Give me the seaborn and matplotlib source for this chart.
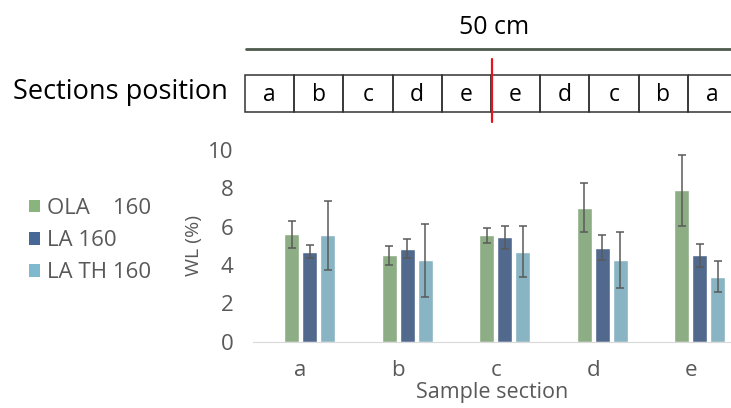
import numpy as np
import pandas as pd
import matplotlib
matplotlib.use('Agg')
import matplotlib.pyplot as plt
import matplotlib.transforms as mtransforms
from matplotlib.patches import Rectangle, Patch
import seaborn as sns

sections = ['a', 'b', 'c', 'd', 'e']
series = ['OLA    160', 'LA 160', 'LA TH 160']
ola = [5.6, 4.5, 5.55, 7.0, 7.9]
ola_err = [0.7, 0.5, 0.4, 1.3, 1.85]
la = [4.7, 4.85, 5.45, 4.9, 4.5]
la_err = [0.35, 0.5, 0.6, 0.65, 0.6]
lath = [5.55, 4.25, 4.7, 4.25, 3.4]
lath_err = [1.8, 1.9, 1.35, 1.45, 0.8]
positions = ['a', 'b', 'c', 'd', 'e', 'e', 'd', 'c', 'b', 'a']
colors = ['#89B47D', '#476797', '#7EB9CD']

df = pd.DataFrame({
    'section': sections * 3,
    'series': np.repeat(series, len(sections)),
    'wl': ola + la + lath,
    'err': ola_err + la_err + lath_err,
})

sns.set_style('white')
plt.rcParams['font.family'] = ['Open Sans', 'DejaVu Sans']
grey = '#595959'

fig = plt.figure(figsize=(7.31, 4.08), dpi=100)
ax = fig.add_axes([253 / 731, 1 - 341.7 / 408, 1 - 253 / 731, (341.7 - 150) / 408])

sns.barplot(data=df, x='section', y='wl', hue='series', palette=colors,
            width=0.555, gap=0.16, errorbar=None, legend=False, ax=ax)

# error bars from the table
for cont, s in zip(ax.containers, series):
    sub = df[df['series'] == s]
    xs = [p.get_x() + p.get_width() / 2 for p in cont.patches]
    ax.errorbar(xs, sub['wl'], yerr=sub['err'], fmt='none', ecolor='#5a5a5a',
                elinewidth=1.1, capsize=3, capthick=1.1)

ax.set_xlim(-0.58, 4.32)
ax.set_ylim(0, 10)
ax.set_yticks(range(0, 11, 2))
ax.tick_params(axis='both', length=0, colors=grey, labelsize=16)
ax.tick_params(axis='y', pad=14)
ax.tick_params(axis='x', pad=13)
for lbl in ax.get_xticklabels():
    lbl.set_transform(lbl.get_transform() + mtransforms.ScaledTranslation(-0.09, 0, fig.dpi_scale_trans))
for sp in ['top', 'right', 'left']:
    ax.spines[sp].set_visible(False)
ax.spines['bottom'].set_color('#d9d9d9')
ax.set_xlabel('Sample section', fontsize=15.5, color=grey, labelpad=1)
ax.set_ylabel('WL (%)', fontsize=14, color=grey, labelpad=4)

handles = [Patch(facecolor=c, edgecolor='none') for c in colors]
fig.legend(handles, series, loc='upper left', bbox_to_anchor=(9 / 731, 1 - 178 / 408),
           frameon=False, fontsize=16, labelcolor=grey, handlelength=0.5,
           handleheight=0.5, handletextpad=0.3, labelspacing=0.5)

# section position diagram on top
top = fig.add_axes([0, 0, 1, 1], zorder=-1)
top.set_xlim(0, 731)
top.set_ylim(408, 0)
top.axis('off')
top.text(494, 27, '50 cm', ha='center', va='center', fontsize=18, color='black')
top.plot([246, 731], [49, 49], color='#4d5a4d', lw=2)
top.text(120, 92, 'Sections position', ha='center', va='center', fontsize=19.5, color='black')
cell_w = 49.2
for i, p in enumerate(positions):
    x0 = 245 + i * cell_w
    top.add_patch(Rectangle((x0, 75), cell_w, 37, fill=False, edgecolor='#333333', lw=1.1))
    top.text(x0 + cell_w / 2, 95, p, ha='center', va='center', fontsize=16.5, color='black')
top.plot([492, 492], [59, 122], color='#e8141b', lw=1.6)

fig.savefig('out.png', dpi=100)
